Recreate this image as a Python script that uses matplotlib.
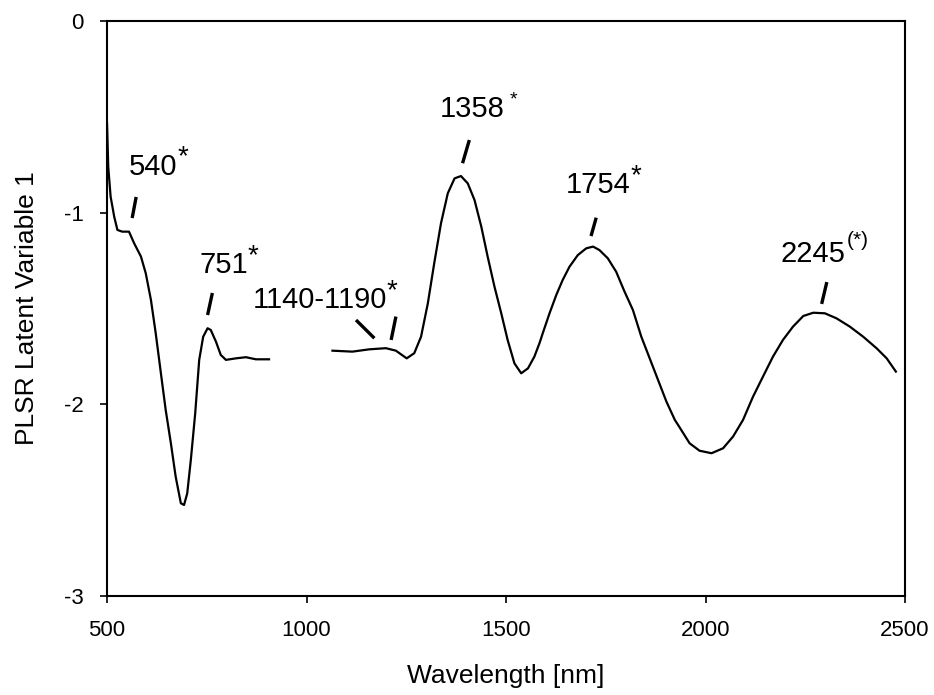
import numpy as np
import matplotlib.pyplot as plt

plt.rcParams['font.family'] = ['Liberation Sans', 'DejaVu Sans']
plt.rcParams['axes.unicode_minus'] = False

# PLSR latent variable 1 loadings, two segments (gap around the detector change)
wl_vis = [500, 503, 509, 518, 526, 538, 555, 568, 585, 597, 610, 622, 635, 647, 660,
          672, 685, 693, 701, 710, 721, 731, 741, 752, 760, 773, 785, 798, 823, 848,
          873, 906]
lv_vis = [-0.534, -0.760, -0.917, -1.021, -1.090, -1.099, -1.099, -1.160, -1.229, -1.316,
          -1.455, -1.629, -1.838, -2.029, -2.203, -2.377, -2.516, -2.525, -2.464, -2.290,
          -2.046, -1.768, -1.647, -1.603, -1.612, -1.673, -1.742, -1.768, -1.760, -1.754,
          -1.765, -1.765]

wl_nir = [1065, 1115, 1157, 1199, 1224, 1251, 1270, 1287, 1304, 1320, 1337, 1354, 1371,
          1387, 1404, 1421, 1438, 1454, 1471, 1488, 1504, 1521, 1538, 1555, 1571, 1584,
          1592, 1609, 1626, 1642, 1659, 1680, 1701, 1718, 1734, 1755, 1776, 1797, 1818,
          1839, 1860, 1881, 1902, 1923, 1935, 1960, 1985, 2015, 2044, 2069, 2094, 2119,
          2144, 2169, 2194, 2219, 2245, 2270, 2299, 2328, 2362, 2395, 2429, 2454, 2477]
lv_nir = [-1.720, -1.725, -1.713, -1.707, -1.720, -1.760, -1.733, -1.647, -1.473, -1.264,
          -1.055, -0.899, -0.821, -0.809, -0.847, -0.934, -1.073, -1.230, -1.386, -1.525,
          -1.664, -1.786, -1.838, -1.812, -1.751, -1.680, -1.629, -1.525, -1.429, -1.351,
          -1.282, -1.221, -1.186, -1.177, -1.195, -1.238, -1.308, -1.412, -1.508, -1.647,
          -1.760, -1.873, -1.986, -2.081, -2.120, -2.203, -2.242, -2.255, -2.229, -2.168,
          -2.081, -1.960, -1.855, -1.751, -1.664, -1.595, -1.539, -1.522, -1.525, -1.551,
          -1.595, -1.647, -1.708, -1.760, -1.829]

# band labels: main text, superscript, anchor (nm, value)
labels = ['540', '751', '1140-1190', '1358', '1754', '2245']
sups = ['*', '*', '*', ' *', '*', '(*)']
label_x = [555, 731, 864, 1333, 1649, 2189]
label_y = [-0.803, -1.315, -1.499, -0.499, -0.899, -1.256]

# short leader strokes (x0, x1, y0, y1)
marks = [
    (563, 573, -1.028, -0.918),
    (752, 764, -1.534, -1.419),
    (1124, 1170, -1.560, -1.655),
    (1212, 1224, -1.664, -1.542),
    (1391, 1408, -0.742, -0.621),
    (1713, 1726, -1.122, -1.026),
    (2291, 2304, -1.476, -1.362),
]

fig = plt.figure(figsize=(9.34, 6.95), dpi=100)
ax = fig.add_axes([0.1146, 0.1424, 0.8544, 0.8274])

ax.plot(wl_vis, lv_vis, color='black', lw=1.6)
ax.plot(wl_nir, lv_nir, color='black', lw=1.6)

for x0, x1, y0, y1 in marks:
    ax.plot([x0, x1], [y0, y1], color='black', lw=2.4, solid_capstyle='butt')

for i in range(len(labels)):
    t = ax.text(label_x[i], label_y[i], labels[i], fontsize=21, va='baseline', ha='left')
    if sups[i] == ' *':
        # small star sitting at cap height, after a space
        ax.annotate('*', xy=(1, 1), xycoords=t, fontsize=14, va='top', ha='left',
                    xytext=(4, 2), textcoords='offset points')
    elif sups[i] == '*':
        ax.annotate(sups[i], xy=(1, 1), xycoords=t, fontsize=20, va='top', ha='left',
                    xytext=(0, 6), textcoords='offset points')
    else:
        ax.annotate(sups[i], xy=(1, 1), xycoords=t, fontsize=15, va='top', ha='left',
                    xytext=(1, 6), textcoords='offset points')

ax.set_xlim(500, 2500)
ax.set_ylim(-3, 0)
ax.set_xticks([500, 1000, 1500, 2000, 2500])
ax.set_yticks([-3, -2, -1, 0])
ax.tick_params(direction='out', length=5, width=1.2, labelsize=16, pad=12)
for s in ax.spines.values():
    s.set_linewidth(1.5)

ax.set_xlabel('Wavelength [nm]', fontsize=19)
ax.set_ylabel('PLSR Latent Variable 1', fontsize=19)
ax.xaxis.set_label_coords(0.5, -0.118)
ax.yaxis.set_label_coords(-0.085, 0.5)

fig.savefig('out.png', dpi=100)
